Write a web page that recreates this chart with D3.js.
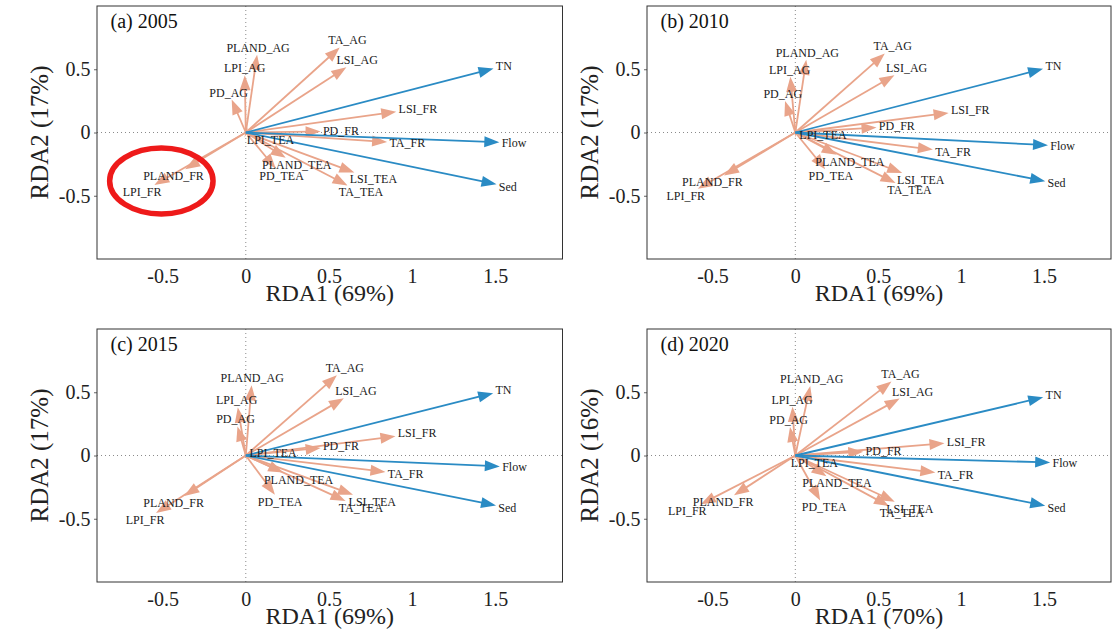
<!DOCTYPE html>
<html>
<head>
<meta charset="utf-8">
<script src="https://cdn.jsdelivr.net/npm/d3@7"></script>
<style>
  body { margin: 0; background: #fff; }
  svg { display: block; }
</style>
</head>
<body>
<svg id="chart" width="1115" height="637"></svg>
<script>
// Landscape metrics (explanatory arrows) and water-quality responses
const metricNames = ["PLAND_AG", "LPI_AG", "PD_AG", "TA_AG", "LSI_AG", "LSI_FR", "PD_FR", "TA_FR",
                     "LSI_TEA", "TA_TEA", "PLAND_TEA", "PD_TEA", "LPI_TEA", "PLAND_FR", "LPI_FR"];
const responseNames = ["TN", "Flow", "Sed"];

// RDA1 / RDA2 scores, same order as metricNames
const metrics2005 = [[0.068, 0.615], [-0.006, 0.452], [-0.085, 0.26], [0.565, 0.672], [0.605, 0.515],
                     [0.905, 0.165], [0.45, 0.008], [0.85, -0.076], [0.653, -0.316], [0.612, -0.418],
                     [0.24, -0.2], [0.18, -0.285], [0.01, -0.004], [-0.365, -0.29], [-0.55, -0.415]];
const metrics2010 = [[0.066, 0.575], [-0.03, 0.44], [-0.062, 0.25], [0.54, 0.625], [0.598, 0.452],
                     [0.925, 0.155], [0.49, 0.04], [0.83, -0.135], [0.645, -0.32], [0.605, -0.4],
                     [0.25, -0.175], [0.18, -0.29], [0.01, -0.001], [-0.43, -0.34], [-0.588, -0.445]];
const metrics2015 = [[0.035, 0.555], [-0.048, 0.38], [-0.05, 0.23], [0.548, 0.635], [0.59, 0.452],
                     [0.9, 0.152], [0.45, 0.06], [0.84, -0.13], [0.645, -0.31], [0.6, -0.36],
                     [0.225, -0.135], [0.175, -0.31], [0.008, 0.001], [-0.37, -0.32], [-0.54, -0.455]];
const metrics2020 = [[0.09, 0.55], [-0.017, 0.385], [-0.032, 0.225], [0.58, 0.585], [0.63, 0.45],
                     [0.9, 0.096], [0.41, 0.03], [0.845, -0.135], [0.6, -0.365], [0.565, -0.4],
                     [0.188, -0.165], [0.15, -0.355], [0.004, -0.002], [-0.37, -0.315], [-0.57, -0.385]];

// RDA1 / RDA2 scores, same order as responseNames
const responses2005 = [[1.49, 0.505], [1.525, -0.078], [1.508, -0.41]];
const responses2010 = [[1.495, 0.503], [1.525, -0.1], [1.508, -0.385]];
const responses2015 = [[1.488, 0.493], [1.528, -0.086], [1.505, -0.395]];
const responses2020 = [[1.496, 0.46], [1.538, -0.055], [1.508, -0.397]];

const panelTitles = ["(a) 2005", "(b) 2010", "(c) 2015", "(d) 2020"];
const rda1Percent = [69, 69, 69, 70];
const rda2Percent = [17, 17, 17, 16];

const xTicks = [-0.5, 0, 0.5, 1, 1.5];
const yTicks = [-0.5, 0, 0.5];
const xDomain = [-0.895, 1.905];
const yDomain = [-1, 1];

// Highlighted forest group in the 2005 panel (centre and radii in RDA units)
const highlight2005 = { x: -0.508, y: -0.383, rx: 0.311, ry: 0.261 };

const metricSets = [metrics2005, metrics2010, metrics2015, metrics2020];
const responseSets = [responses2005, responses2010, responses2015, responses2020];

// ---- layout & style ----
const frames = [
  { left: 97,  right: 562.5, top: 6,   bottom: 259 },
  { left: 647, right: 1111,  top: 6,   bottom: 259 },
  { left: 97,  right: 562.5, top: 329, bottom: 582 },
  { left: 647, right: 1111,  top: 329, bottom: 582 }
];
const SERIF = "'Liberation Serif', 'Times New Roman', serif";
const metricColor = "#E9A48A";
const responseColor = "#2A8BC4";
const labelSize = 12;
const headLen = 15, headHalf = 5.5;

const svg = d3.select("#chart");

function drawArrow(g, x0, y0, x1, y1, color) {
  const dx = x1 - x0, dy = y1 - y0;
  const len = Math.hypot(dx, dy);
  if (len < 0.5) return;
  const ux = dx / len, uy = dy / len;
  const hl = Math.min(headLen, len);
  const bx = x1 - ux * hl, by = y1 - uy * hl;
  g.append("line")
    .attr("x1", x0).attr("y1", y0)
    .attr("x2", x1 - ux * hl * 0.7).attr("y2", y1 - uy * hl * 0.7)
    .attr("stroke", color).attr("stroke-width", 1.8);
  g.append("path")
    .attr("d", `M${x1},${y1}L${bx - uy * headHalf},${by + ux * headHalf}L${bx + uy * headHalf},${by - ux * headHalf}Z`)
    .attr("fill", color);
}

// Label placement: the text box is pushed beyond the arrow tip so that its
// nearest corner/edge touches the arrow direction (as in vegan's biplot text).
function placeLabel(textSel, tipX, tipY, ox, oy) {
  const w = textSel.node().getComputedTextLength();
  const h = labelSize * 0.78;
  const dx = tipX - ox, dy = oy - tipY;   // y up
  let offX = Math.sign(dx) * (w / 2 + h / 4);
  let offY = 0.75 * h * Math.sign(dy);
  const b = dy / dx;
  const move = offY / b;
  if (isFinite(move) && Math.abs(move) <= Math.abs(offX)) offX = move;
  else offY = b * offX;
  const cx = tipX + offX, cy = tipY - offY;
  textSel.attr("x", cx).attr("y", cy + labelSize * 0.33);
}

frames.forEach((f, i) => {
  const x = d3.scaleLinear().domain(xDomain).range([f.left, f.right]);
  const y = d3.scaleLinear().domain(yDomain).range([f.bottom, f.top]);
  const g = svg.append("g");

  // zero reference lines
  g.append("line").attr("x1", f.left).attr("x2", f.right).attr("y1", y(0)).attr("y2", y(0))
    .attr("stroke", "#8a8a8a").attr("stroke-width", 1).attr("stroke-dasharray", "1,3");
  g.append("line").attr("x1", x(0)).attr("x2", x(0)).attr("y1", f.top).attr("y2", f.bottom)
    .attr("stroke", "#8a8a8a").attr("stroke-width", 1).attr("stroke-dasharray", "1,3");

  // axes
  const ax = g.append("g").attr("transform", `translate(0,${f.bottom})`)
    .call(d3.axisBottom(x).tickValues(xTicks).tickSize(0).tickPadding(9.5).tickFormat(d => String(d)));
  const ay = g.append("g").attr("transform", `translate(${f.left},0)`)
    .call(d3.axisLeft(y).tickValues(yTicks).tickSize(3).tickPadding(3.5).tickFormat(d => String(d)));
  [ax, ay].forEach(a => {
    a.select(".domain").remove();
    a.selectAll(".tick line").attr("stroke", "#666");
    a.selectAll(".tick text").attr("font-family", SERIF).attr("font-size", 20).attr("fill", "#222");
  });

  // frame
  g.append("rect").attr("x", f.left).attr("y", f.top)
    .attr("width", f.right - f.left).attr("height", f.bottom - f.top)
    .attr("fill", "none").attr("stroke", "#333").attr("stroke-width", 1);

  const ox = x(0), oy = y(0);
  const arrows = g.append("g");
  metricSets[i].forEach(d => drawArrow(arrows, ox, oy, x(d[0]), y(d[1]), metricColor));
  responseSets[i].forEach(d => drawArrow(arrows, ox, oy, x(d[0]), y(d[1]), responseColor));

  const labels = g.append("g").attr("font-family", SERIF).attr("font-size", labelSize)
    .attr("fill", "#1a1a1a").attr("text-anchor", "middle");
  const allNames = metricNames.concat(responseNames);
  const allScores = metricSets[i].concat(responseSets[i]);
  allScores.forEach((d, k) => {
    const t = labels.append("text").text(allNames[k]);
    placeLabel(t, x(d[0]), y(d[1]), ox, oy);
  });

  // panel title
  g.append("text").attr("x", f.left + 13.5).attr("y", f.top + 22.3)
    .attr("font-family", SERIF).attr("font-size", 20).attr("fill", "#111")
    .text(panelTitles[i]);

  // axis titles
  g.append("text").attr("x", (f.left + f.right) / 2).attr("y", f.bottom + 42)
    .attr("text-anchor", "middle").attr("font-family", SERIF).attr("font-size", 24).attr("fill", "#222")
    .text(`RDA1 (${rda1Percent[i]}%)`);
  g.append("text")
    .attr("transform", `translate(${f.left - 49},${(f.top + f.bottom) / 2}) rotate(-90)`)
    .attr("text-anchor", "middle").attr("font-family", SERIF).attr("font-size", 25).attr("fill", "#222")
    .text(`RDA2 (${rda2Percent[i]}%)`);

  if (i === 0) {
    const h = highlight2005;
    g.append("ellipse")
      .attr("cx", x(h.x)).attr("cy", y(h.y))
      .attr("rx", x(h.x + h.rx) - x(h.x)).attr("ry", y(h.y) - y(h.y + h.ry))
      .attr("fill", "none").attr("stroke", "#EE1A1A").attr("stroke-width", 5.5);
  }
});
</script>
</body>
</html>
